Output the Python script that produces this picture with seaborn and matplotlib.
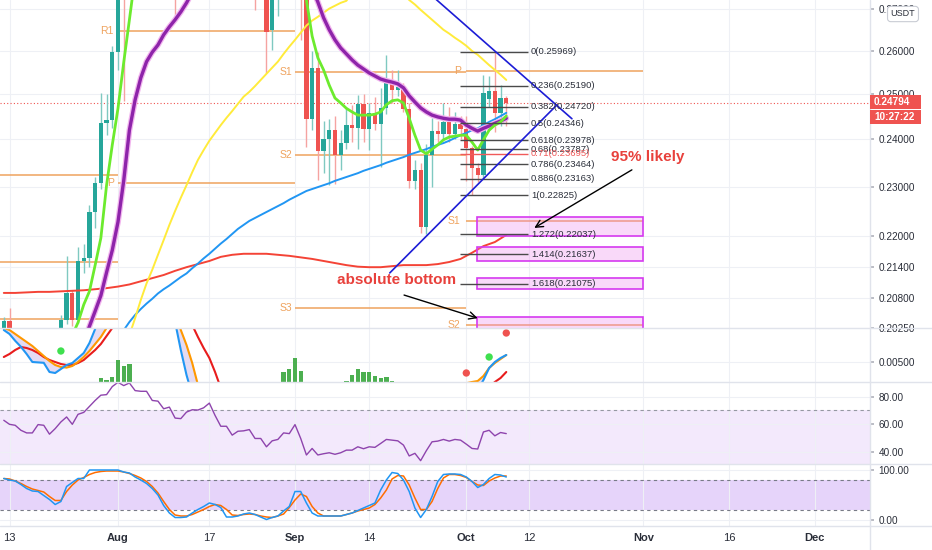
import numpy as np
import pandas as pd
import matplotlib
matplotlib.use("Agg")
import matplotlib.pyplot as plt
import matplotlib.patheffects as pe
from matplotlib.patches import Rectangle
from matplotlib.lines import Line2D
from matplotlib.ticker import NullLocator, NullFormatter
import seaborn as sns

sns.set_theme(style="white")
plt.rcParams['font.family'] = ['Liberation Sans', 'DejaVu Sans']

t0 = pd.Timestamp('2020-07-13')

def day_pos(start, n, step=1):
    return (pd.date_range(start, periods=n, freq=f'{step}D') - t0).days.values

# ---------------- daily candles 12 Jul - 8 Oct ----------------
candle_start = '2020-07-12'
opens = [.2024, .2038, .1990, .1985, .1960, .1945, .1975, .1990, .1980, .1955,
         .2003, .2040, .2090, .2040, .2150, .2157, .2248, .2307, .2435, .2442,
         .2596, .2950, .2850, .2960, .3020, .3100, .3250, .3150, .3200, .3050,
         .3000, .2850, .2950, .3150, .3350, .3300, .3400, .3500, .3300, .3100,
         .3200, .3000, .3050, .3000, .3100, .2900, .2850, .2649, .2740, .2800,
         .2900, .2850, .2950, .2820, .2445, .2560, .2375, .2400, .2420, .2366,
         .2392, .2431, .2425, .2478, .2422, .2457, .2434, .2469, .2526, .2510,
         .2515, .2466, .2312, .2335, .2218, .2367, .2418, .2412, .2437, .2412,
         .2433, .2422, .2382, .2339, .2325, .2488, .2506, .2458, .2491]
highs = [.2046, .2062, .2005, .2000, .1985, .1990, .2005, .2010, .1995, .2010,
         .2048, .2160, .2095, .2178, .2185, .2262, .2320, .2502, .2500, .2610,
         .3050, .3150, .3000, .3080, .3150, .3300, .3350, .3250, .3280, .3200,
         .3100, .3000, .3200, .3400, .3500, .3450, .3600, .3550, .3350, .3250,
         .3250, .3100, .3100, .3150, .3120, .3000, .2900, .2760, .2850, .2950,
         .3000, .3050, .2980, .2850, .2600, .2596, .2440, .2445, .2452, .2420,
         .2470, .2475, .2498, .2500, .2480, .2494, .2514, .2590, .2555, .2555,
         .2525, .2480, .2355, .2350, .2390, .2447, .2440, .2480, .2470, .2460,
         .2450, .2450, .2385, .2350, .2544, .2540, .25969, .2520, .2495]
lows = [.2012, .1975, .1950, .1940, .1925, .1935, .1955, .1965, .1940, .1950,
        .1990, .2032, .2028, .2035, .2128, .2140, .2215, .2295, .2410, .2425,
        .2555, .2484, .2780, .2880, .2950, .3050, .3050, .3080, .3000, .2950,
        .2675, .2780, .2900, .3100, .3250, .3200, .3300, .3250, .3000, .3050,
        .2950, .2900, .2950, .2950, .2697, .2780, .2548, .2601, .2683, .2760,
        .2800, .2800, .2625, .2384, .2420, .2314, .2328, .2304, .2305, .2335,
        .2380, .2395, .2380, .2395, .2377, .2420, .2342, .2455, .2480, .2495,
        .2460, .2297, .2295, .2206, .2204, .2300, .2395, .2400, .2395, .2400,
        .2400, .2312, .22825, .2310, .2315, .2470, .2417, .2428, .2430]
closes = [.2038, .1990, .1985, .1960, .1945, .1975, .1990, .1980, .1955, .2003,
          .2040, .2090, .2040, .2150, .2157, .2248, .2307, .2435, .2442, .2596,
          .2950, .2850, .2960, .3020, .3100, .3250, .3150, .3200, .3050, .3000,
          .2850, .2950, .3150, .3350, .3300, .3400, .3500, .3300, .3100, .3200,
          .3000, .3050, .3000, .3100, .2900, .2850, .2643, .2740, .2800, .2900,
          .2850, .2950, .2820, .2445, .2560, .2375, .2400, .2420, .2366, .2392,
          .2431, .2425, .2478, .2422, .2457, .2434, .2469, .2526, .2510, .2515,
          .2466, .2312, .2335, .2218, .2367, .2418, .2412, .2437, .2412, .2433,
          .2422, .2382, .2339, .2325, .2502, .2506, .2458, .2491, .24794]
last_price = 0.24794

# ---------------- moving averages ----------------
ema_fast_start = '2020-07-24'
ema_fast = [.2012, .2035, .2068, .2093, .2143, .2196, .2303, .2388, .2468, .2572,
            .2673, .2780, .2870, .2950, .3030, .3080, .3100, .3080, .3020, .2990,
            .3020, .3100, .3170, .3230, .3300, .3300, .3250, .3230, .3180, .3150,
            .3110, .3100, .3050, .3000, .2930, .2890, .2870, .2880, .2870, .2890,
            .2800, .2721, .2634, .2583, .2555, .2520, .2491, .2480, .2468, .2460,
            .2453, .2453, .2453, .2455, .2460, .2476, .2485, .2487, .2480, .2446,
            .2409, .2377, .2369, .2379, .2388, .2399, .2405, .2407, .2409, .2409,
            .2394, .2377, .2399, .2420, .2431, .2438, .2451]
ema_mid_start = '2020-07-26'
ema_mid = [.2000, .2028, .2056, .2085, .2129, .2172, .2228, .2312, .2420, .2487,
           .2537, .2574, .2596, .2613, .2637, .2656, .2673, .2692, .2714, .2740,
           .2770, .2800, .2830, .2850, .2860, .2870, .2880, .2885, .2890, .2895,
           .2890, .2885, .2870, .2860, .2855, .2850, .2850, .2850, .2840, .2790,
           .2750, .2716, .2678, .2649, .2625, .2606, .2592, .2578, .2566, .2557,
           .2548, .2541, .2534, .2530, .2527, .2523, .2514, .2496, .2482, .2469,
           .2460, .2453, .2449, .2446, .2444, .2444, .2442, .2431, .2424, .2418,
           .2424, .2429, .2435, .2440, .2446]
sma50_start = '2020-08-03'
sma50 = [.2012, .2043, .2077, .2108, .2134, .2163, .2192, .2222, .2250, .2277,
         .2303, .2330, .2356, .2377, .2397, .2414, .2431, .2447, .2462, .2478,
         .2494, .2505, .2518, .2532, .2546, .2560, .2574, .2592, .2609, .2625,
         .2642, .2659, .2671, .2680, .2690, .2700, .2707, .2714, .2719, .2740,
         .2755, .2765, .2772, .2776, .2776, .2772, .2765, .2752, .2737, .2721,
         .2710, .2697, .2685, .2673, .2661, .2649, .2640, .2630, .2621, .2611,
         .2599, .2590, .2578, .2566, .2555, .2544, .2532]
sma100_start = '2020-08-02'
sma100 = [.2021, .2036, .2049, .2060, .2070, .2079, .2089, .2097, .2104, .2112,
          .2120, .2127, .2137, .2146, .2156, .2165, .2175, .2185, .2194, .2204,
          .2214, .2222, .2230, .2236, .2242, .2248, .2254, .2260, .2266, .2273,
          .2279, .2285, .2291, .2295, .2299, .2303, .2307, .2312, .2316, .2320,
          .2324, .2328, .2333, .2337, .2341, .2345, .2350, .2354, .2358, .2362,
          .2367, .2371, .2375, .2379, .2384, .2388, .2392, .2397, .2403, .2409,
          .2414, .2420, .2424, .2431, .2438, .2444, .2451, .2458]
sma200_start = '2020-07-12'   # every second day
sma200 = [.2090, .2090, .2091, .2092, .2092, .2093, .2094, .2095, .2097, .2099,
          .2102, .2106, .2112, .2118, .2124, .2132, .2139, .2145, .2151, .2159,
          .2163, .2165, .2165, .2165, .2163, .2161, .2158, .2155, .2151, .2147,
          .2143, .2140, .2139, .2139, .2141, .2143, .2143, .2143, .2145, .2149,
          .2155, .2167, .2180, .2188, .2202]

# ---------------- pivots ----------------
pivot_jul = [0.2324, 0.2149, 0.2041]
pivot_aug_names = ['R1', 'P']
pivot_aug = [0.2646, 0.2308]
pivot_sep_names = ['S1', 'S2', 'S3']
pivot_sep = [0.2551, 0.2367, 0.2062]
pivot_oct_names = ['P', 'S1', 'S2']
pivot_oct = [0.2552, 0.2230, 0.2030]

# ---------------- fibonacci ----------------
fib_levels = [0, 0.236, 0.382, 0.5, 0.618, 0.68, 0.71, 0.786, 0.886, 1, 1.272, 1.414, 1.618]
fib_prices = [0.25969, 0.25190, 0.24720, 0.24346, 0.23978, 0.23787, 0.23695,
              0.23464, 0.23163, 0.22825, 0.22037, 0.21637, 0.21075]
target_boxes = [(0.2200, 0.2237), (0.2151, 0.2179), (0.2098, 0.2119), (0.2010, 0.2046)]

# ---------------- oscillator panel ----------------
wave_blue = [.0130, .0120, .0103, .0088, .0070, .0050, .0049, .0048, .0025, .00225,
             .00325, .00425, .00475, .0060, .00725, .00975, .01325, .0168, .0200, .0240,
             .0280, .0300, .0310, .0310, .0300, .0290, .0270, .0250, .0220, .0190,
             .0150, .0080, .00175, -.00325, -.0080, -.0120, -.0150, -.0170, -.0180, -.0180,
             -.0175, -.0170, -.0160, -.0150, -.0140, -.0130, -.0120, -.0110, -.0100, -.0090,
             -.0085, -.0090, -.0110, -.0150, -.0180, -.0190, -.0185, -.0175, -.0160, -.0145,
             -.0130, -.0115, -.0100, -.0090, -.0085, -.0090, -.0100, -.0110, -.0130, -.0160,
             -.0190, -.0210, -.0220, -.0215, -.0200, -.0185, -.0170, -.0160, -.0150, -.0140,
             -.0130, -.0120, -.0070, -.0020, .0005, .0035, .0050, .0060, .00675]
wave_orange = [.0135, .0130, .0120, .0110, .0100, .0090, .00775, .0065, .00525, .00425,
               .00375, .0036, .0040, .0050, .00625, .00775, .0095, .01125, .0135, .0160,
               .0190, .0220, .0250, .0270, .0280, .0280, .0275, .0260, .0240, .0215,
               .0180, .0130, .00925, .00475, -.00075, -.0050, -.0090, -.0120, -.0150, -.0165,
               -.0175, -.0175, -.0170, -.0160, -.0150, -.0140, -.0130, -.0120, -.0110, -.0100,
               -.0095, -.0095, -.0100, -.0120, -.0150, -.0170, -.0180, -.0178, -.0170, -.0155,
               -.0140, -.0125, -.0110, -.0100, -.0092, -.0090, -.0095, -.0105, -.0120, -.0145,
               -.0170, -.0190, -.0205, -.0210, -.0200, -.0180, -.0150, -.0110, -.0070, -.0040,
               -.0020, -.0003, .0000, .00025, .0015, .0035, .00475, .00575, .00675]
wave_red = [.00625, .0070, .0080, .00875, .0085, .0080, .00725, .00625, .0055, .0050,
            .0045, .00425, .00425, .00475, .0055, .00675, .0080, .0095, .0115, .0135,
            .0160, .0180, .0200, .0215, .0225, .0232, .0236, .0236, .0232, .0225,
            .0215, .0200, .0180, .01425, .01125, .0085, .0060, .0025, -.0015, -.0050,
            -.0080, -.0100, -.0115, -.0125, -.0132, -.0138, -.0142, -.0145, -.0146, -.0146,
            -.0145, -.0143, -.0140, -.0138, -.0137, -.0138, -.0140, -.0142, -.0143, -.0143,
            -.0142, -.0140, -.0137, -.0133, -.0128, -.0123, -.0118, -.0113, -.0110, -.0110,
            -.0112, -.0116, -.0120, -.0125, -.0128, -.0130, -.0128, -.0122, -.0112, -.0100,
            -.0088, -.0062, -.0050, -.0038, -.0025, -.0012, .0000, .0010, .0025]
hist_dates = ['2020-07-29', '2020-07-30', '2020-07-31', '2020-08-01', '2020-08-02', '2020-08-03',
              '2020-08-30', '2020-08-31', '2020-09-01', '2020-09-02',
              '2020-09-10', '2020-09-11', '2020-09-12', '2020-09-13', '2020-09-14',
              '2020-09-15', '2020-09-16', '2020-09-17', '2020-09-18']
hist_vals = [.0010, .0004, .00125, .0056, .0039, .0046,
             .0024, .00325, .0059, .00265,
             .00033, .0018, .00325, .0025, .0025, .0014, .0010, .0012, .00033]
dot_dates = ['2020-07-22', '2020-10-01', '2020-10-05', '2020-10-08']
dot_vals = [.00775, .00225, .00625, .01225]
dot_colors = ['#3FE04F', '#EF5350', '#3FE04F', '#EF5350']

# ---------------- RSI / Stoch RSI ----------------
rsi = [62.9, 60.0, 59.3, 55.7, 53.8, 53.8, 59.8, 59.3, 52.9, 56.9,
       61.7, 65.3, 60.0, 67.2, 68.6, 72.9, 77.2, 81.0, 81.4, 87.2,
       90.3, 87.9, 89.8, 84.3, 83.8, 83.8, 77.2, 76.7, 71.2, 72.4,
       64.5, 64.1, 68.8, 70.5, 70.3, 71.9, 75.3, 66.4, 58.6, 58.6,
       52.2, 55.0, 55.3, 56.2, 49.8, 49.8, 43.8, 48.1, 49.1, 53.8,
       53.3, 59.8, 49.8, 37.9, 42.6, 37.9, 38.8, 39.5, 38.4, 39.5,
       41.4, 41.4, 43.8, 42.4, 43.8, 43.4, 46.2, 49.1, 48.6, 48.1,
       45.0, 37.2, 39.1, 33.8, 41.0, 47.4, 47.9, 49.1, 47.9, 49.1,
       48.6, 45.7, 42.6, 42.2, 54.5, 55.7, 51.7, 54.1, 53.3]
stoch_k = [83, 80, 78, 71, 63, 58, 57, 49, 41, 31,
           37, 67, 75, 83, 83, 100, 100, 100, 100, 100,
           100, 96, 94, 86, 80, 73, 63, 50, 29, 14,
           5, 5, 6, 14, 21, 27, 34, 31, 25, 6,
           6, 8, 12, 14, 11, 6, 1, 5, 8, 18,
           27, 57, 57, 34, 14, 8, 8, 8, 8, 8,
           11, 14, 19, 24, 29, 34, 60, 80, 95, 93,
           80, 57, 24, 5, 21, 47, 77, 91, 92, 92,
           91, 86, 77, 65, 71, 83, 91, 90, 86]
stoch_d = [83, 82, 78, 73, 67, 62, 59, 56, 47, 39,
           39, 57, 70, 80, 85, 91, 95, 97, 98, 98,
           98, 96, 93, 89, 84, 77, 67, 54, 37, 21,
           10, 8, 8, 11, 16, 21, 27, 31, 29, 21,
           10, 9, 11, 12, 11, 8, 6, 5, 8, 12,
           25, 40, 52, 47, 27, 14, 8, 8, 8, 8,
           11, 14, 18, 21, 24, 31, 44, 60, 82, 89,
           88, 70, 44, 21, 21, 37, 63, 84, 91, 91,
           89, 85, 77, 70, 69, 78, 84, 88, 88]

tick_dates = ['2020-07-13', '2020-08-01', '2020-08-17', '2020-09-01', '2020-09-14',
              '2020-10-01', '2020-10-12', '2020-11-01', '2020-11-16', '2020-12-01']
tick_labels = ['13', 'Aug', '17', 'Sep', '14', 'Oct', '12', 'Nov', '16', 'Dec']
price_ticks = [0.2025, 0.208, 0.214, 0.22, 0.23, 0.24, 0.25, 0.26, 0.27]

# ---------------- layout ----------------
W, H = 932, 550
fig = plt.figure(figsize=(W / 100, H / 100), dpi=100)
fig.patch.set_facecolor('white')
RX = 870 / W

def fy(px):
    return 1 - px / H

ax1 = fig.add_axes([0, fy(328), RX, 328 / H])
ax2 = fig.add_axes([0, fy(382), RX, 54 / H], sharex=ax1)
ax3 = fig.add_axes([0, fy(464), RX, 82 / H], sharex=ax1)
ax4 = fig.add_axes([0, fy(526), RX, 62 / H], sharex=ax1)
axes = [ax1, ax2, ax3, ax4]

xd = day_pos(candle_start, len(opens))
tick_x = (pd.to_datetime(tick_dates) - t0).days.values
grid_c = '#EEF0F5'
txt_c = '#2A2E39'
piv_c = '#EFA35E'

for ax in axes:
    for s in ax.spines.values():
        s.set_visible(False)
    ax.set_facecolor('white')
    ax.yaxis.tick_right()
    ax.set_xticks(tick_x)
    ax.grid(True, color=grid_c, lw=0.8, zorder=0)
    ax.tick_params(axis='y', length=3, color='#B2B5BE', labelsize=7.2,
                   labelcolor=txt_c, pad=3)
    ax.tick_params(axis='x', length=0, labelbottom=False)
ax1.set_xlim(-1.664, 150.7)

# ---- main price panel ----
ax1.set_yscale('log')
ax1.set_ylim(0.2025, 0.2721)
ax1.set_yticks(price_ticks)
ax1.set_yticklabels([f'{v:.5f}' for v in price_ticks])
ax1.yaxis.set_minor_locator(NullLocator())
ax1.yaxis.set_minor_formatter(NullFormatter())

# pivot levels
ax1.hlines(pivot_jul, -2, 19, color=piv_c, lw=1.1, zorder=1)
for nm, v in zip(pivot_aug_names, pivot_aug):
    ax1.hlines(v, 19, 50, color=piv_c, lw=1.1, zorder=1)
    ax1.text(18.3, v, nm, ha='right', va='center', fontsize=7.5, color=piv_c, zorder=4)
for nm, v in zip(pivot_sep_names, pivot_sep):
    ax1.hlines(v, 50, 80, color=piv_c, lw=1.1, zorder=1)
    ax1.text(49.5, v, nm, ha='right', va='center', fontsize=7.5, color=piv_c, zorder=4)
for nm, v in zip(pivot_oct_names, pivot_oct):
    ax1.hlines(v, 80, 111, color=piv_c, lw=1.1, zorder=1)
    ax1.text(79.0, v, nm, ha='right', va='center', fontsize=7.5, color=piv_c, zorder=4)

ax1.axhline(last_price, color='#EF5350', ls=(0, (1, 2)), lw=0.8, zorder=1.5)

# candles
o = np.array(opens); c = np.array(closes); hi = np.array(highs); lo = np.array(lows)
up = c >= o
body_c = np.where(up, '#26A69A', '#EF5350')
wick_c = np.where(up, '#7FC9C1', '#F5A3A1')
ax1.vlines(xd, lo, hi, colors=wick_c, lw=1, zorder=2)
ax1.bar(xd, np.abs(c - o), bottom=np.minimum(o, c), width=0.74, color=body_c,
        linewidth=0, zorder=2.5)

# moving averages
sns.lineplot(x=day_pos(sma200_start, len(sma200), 2), y=sma200, ax=ax1,
             color='#F44336', linewidth=1.4, zorder=3)
sns.lineplot(x=day_pos(sma100_start, len(sma100)), y=sma100, ax=ax1,
             color='#2196F3', linewidth=1.4, zorder=3)
sns.lineplot(x=day_pos(sma50_start, len(sma50)), y=sma50, ax=ax1,
             color='#FFEB3B', linewidth=1.4, zorder=3)
sns.lineplot(x=day_pos(ema_mid_start, len(ema_mid)), y=ema_mid, ax=ax1,
             color='#8E24AA', linewidth=2.4, zorder=3.2)
ax1.lines[-1].set_path_effects([pe.Stroke(linewidth=4.2, foreground='#F1B5EE'), pe.Normal()])
sns.lineplot(x=day_pos(ema_fast_start, len(ema_fast)), y=ema_fast, ax=ax1,
             color='#6CEB2E', linewidth=2.0, zorder=3.3)

# target boxes
for b0, b1 in target_boxes:
    ax1.add_patch(Rectangle((81.9, b0), 29.0, b1 - b0, facecolor='#EE82EE', alpha=0.3,
                            edgecolor='none', zorder=4))
    ax1.add_patch(Rectangle((81.9, b0), 29.0, b1 - b0, facecolor='none',
                            edgecolor='#D63AF0', lw=1.2, zorder=4.1))

# fibonacci
for lvl, p in zip(fib_levels, fib_prices):
    col = '#F05A5A' if lvl == 0.71 else '#4A4A4A'
    tcol = '#F05A5A' if lvl == 0.71 else txt_c
    ax1.hlines(p, 78.9, 90.8, color=col, lw=1.0, zorder=5)
    ax1.text(91.3, p, f'{lvl:g}({p:.5f})', ha='left', va='center', fontsize=6.8,
             color=tcol, zorder=7)

# wedge trendlines
ax1.plot([72.0, 98.5], [0.2756, 0.2445], color='#1C1CD6', lw=1.2, zorder=6)
ax1.plot([66.6, 95.9], [0.2128, 0.2476], color='#1C1CD6', lw=1.2, zorder=6)

# notes
ax1.text(111.8, 0.2362, '95% likely', ha='center', va='center', fontsize=11,
         fontweight='bold', color='#E8413C', zorder=7)
ax1.text(67.7, 0.2114, 'absolute bottom', ha='center', va='center', fontsize=11,
         fontweight='bold', color='#E8413C', zorder=7)
arrow = dict(arrowstyle='->', color='black', lw=1.0, mutation_scale=13, shrinkA=0, shrinkB=0)
ax1.annotate('', xy=(91.9, 0.2216), xytext=(109.0, 0.2335), arrowprops=arrow, zorder=7)
ax1.annotate('', xy=(82.0, 0.2043), xytext=(69.1, 0.2086), arrowprops=arrow, zorder=7)

# ---- oscillator panel ----
ax2.set_ylim(0, 0.0135)
ax2.set_yticks([0.005])
ax2.set_yticklabels(['0.00500'])
ax2.bar((pd.to_datetime(hist_dates) - t0).days.values, hist_vals, width=0.75,
        color='#4CAF50', linewidth=0, zorder=2)
ax2.fill_between(xd, wave_blue, wave_orange, color='#D9CDEE', alpha=0.7, lw=0, zorder=1.5)
sns.lineplot(x=xd, y=wave_red, ax=ax2, color='#E81C1C', linewidth=1.5, zorder=3)
sns.lineplot(x=xd, y=wave_orange, ax=ax2, color='#FF9800', linewidth=1.5, zorder=3)
sns.lineplot(x=xd, y=wave_blue, ax=ax2, color='#2196F3', linewidth=1.5, zorder=3)
ax2.scatter((pd.to_datetime(dot_dates) - t0).days.values, dot_vals, s=28,
            c=dot_colors, linewidths=0, zorder=4)

# ---- RSI ----
ax3.set_ylim(31.4, 90.5)
ax3.set_yticks([40, 60, 80])
ax3.set_yticklabels(['40.00', '60.00', '80.00'])
ax3.axhspan(30, 70, color='#F3E9FC', lw=0, zorder=0.5)
ax3.axhline(70, color='#9598A1', lw=0.8, ls=(0, (3, 3)), zorder=1)
sns.lineplot(x=xd, y=rsi, ax=ax3, color='#8E44AD', linewidth=1.0, zorder=3)

# ---- Stoch RSI ----
ax4.set_ylim(-12, 112)
ax4.set_yticks([0, 100])
ax4.set_yticklabels(['0.00', '100.00'])
ax4.axhspan(20, 80, color='#E6D4FA', lw=0, zorder=0.5)
for lv in (80, 20):
    ax4.axhline(lv, color='#787B86', lw=0.8, ls=(0, (3, 3)), zorder=1)
sns.lineplot(x=xd, y=stoch_d, ax=ax4, color='#FF6D00', linewidth=1.1, zorder=3)
sns.lineplot(x=xd, y=stoch_k, ax=ax4, color='#2196F3', linewidth=1.1, zorder=3)

for ax in axes:
    ax.set_xlabel('')
    ax.set_ylabel('')

ax4.set_xticklabels(tick_labels)
ax4.tick_params(axis='x', labelbottom=True, labelsize=8, labelcolor=txt_c, pad=5)
for lab in ax4.get_xticklabels():
    if lab.get_text().isalpha():
        lab.set_fontweight('bold')

# ---- frame lines and price tags ----
sep_c = '#E0E3EB'
for py in (328, 382, 464, 526):
    fig.add_artist(Line2D([0, 1], [fy(py)] * 2, color=sep_c, lw=1, transform=fig.transFigure))
fig.add_artist(Line2D([RX, RX], [0, 1], color=sep_c, lw=1, transform=fig.transFigure))

fig.add_artist(Rectangle((RX, fy(109)), 51 / W, 14 / H, transform=fig.transFigure,
                         facecolor='#EF5350', edgecolor='none', zorder=5))
fig.add_artist(Rectangle((RX, fy(124)), 51 / W, 14 / H, transform=fig.transFigure,
                         facecolor='#EF5350', edgecolor='none', zorder=5))
fig.text(874 / W, fy(102), f'{last_price:.5f}', color='white', fontsize=7.2,
         fontweight='bold', va='center', ha='left', zorder=6)
fig.text(874 / W, fy(117), '10:27:22', color='white', fontsize=7.2,
         fontweight='bold', va='center', ha='left', zorder=6)
fig.text(903 / W, fy(14), 'USDT', ha='center', va='center', fontsize=6.5, color=txt_c,
         zorder=6, bbox=dict(boxstyle='round,pad=0.35', fc='white', ec='#C9CCD4', lw=0.8))

fig.savefig('out.png', dpi=100, facecolor='white')
